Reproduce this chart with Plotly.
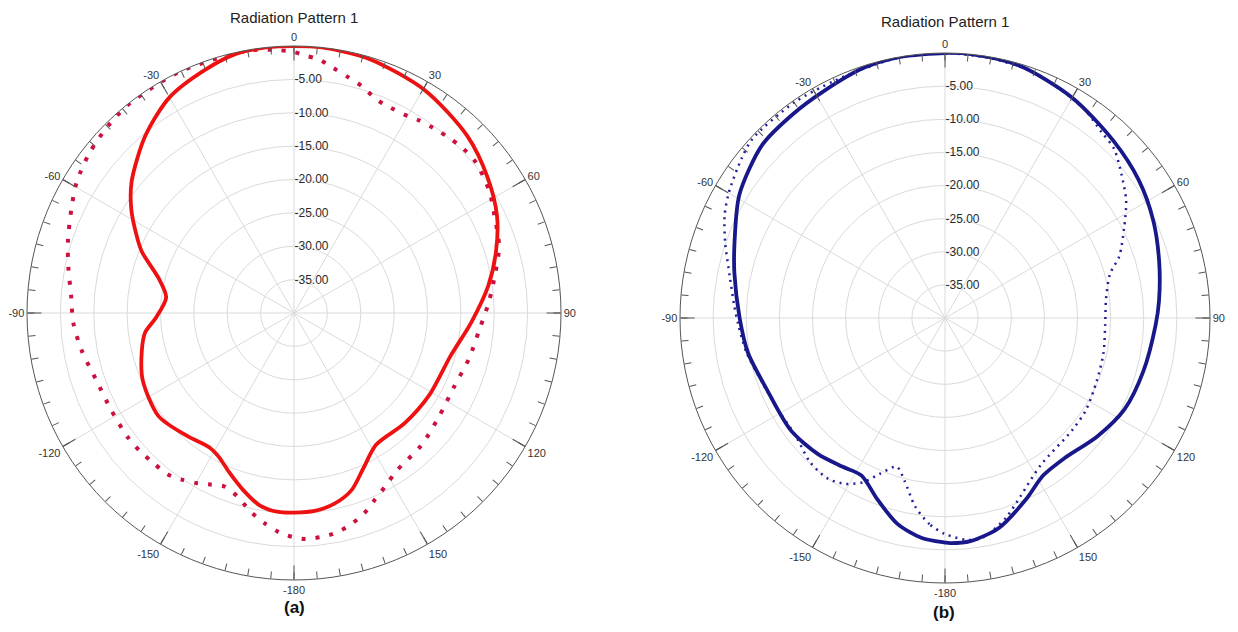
import plotly.graph_objects as go

# ---------------- (a) radiation pattern, gain in dB vs angle in degrees ----------------
theta_a_solid = [-180, -175.5, -170, -164, -158, -152.3, -148, -139, -127.5, -114, -104, -97.5, -92,
                 -83, -76, -68, -63.5, -57.5, -51, -40, -30, -20, -12.5, -6, 0, 6, 16.5, 30.5, 44.5,
                 55, 64.5, 73, 82, 93, 105.5, 121.5, 135, 148, 156, 162, 168, 174, 180]
r_a_solid = [-10.1, -10.1, -10.7, -12.4, -14.2, -15.7, -16.2, -15.6, -14.5, -15.2, -16.5, -17.5, -19.3,
             -20.7, -19.2, -15.4, -13.6, -11.1, -8.7, -5.35, -2.7, -1.2, -0.2, 0.0, 0.0, 0.0, -0.3,
             -1.3, -2.9, -4.6, -6.3, -8.35, -10.6, -13.4, -15.7, -16.3, -16.6, -16.75, -14.5, -12.1,
             -10.8, -10.2, -10.1]

theta_a_dot = [-180, -176, -172, -167.5, -163, -158, -154, -150, -146, -142, -137, -132, -127, -118,
               -108.5, -100, -92.5, -85.5, -78.5, -72, -65, -59, -52, -45, -38, -25, -10, -4, 0, 2.5,
               5.5, 9, 12.7, 17, 21, 25, 29, 33, 37, 41, 45, 50, 58, 64, 72, 79, 87, 95, 104.5, 115,
               125.5, 136, 147, 152, 157, 161, 166, 170, 173, 177, 180]
r_a_dot = [-6.4, -7.1, -8.2, -9.6, -11.2, -12.0, -11.4, -10.6, -9.9, -9.3, -9.2, -9.0, -8.9, -9.0,
           -8.7, -7.7, -6.9, -6.5, -5.5, -4.4, -3.2, -2.0, -1.1, -0.5, -0.1, 0.0, -0.1, -0.5, -0.9, -1.4,
           -1.8, -2.8, -3.7, -4.6, -5.7, -6.0, -6.0, -5.6, -5.3, -5.0, -4.7, -4.6, -5.5, -6.6, -7.7,
           -9.3, -10.8, -12.1, -12.9, -13.6, -13.3, -12.5, -11.8, -10.7, -9.4, -8.1, -7.0, -6.4, -6.2,
           -6.1, -6.4]

# ---------------- (b) radiation pattern ----------------
theta_b_solid = [-180, -174, -167, -159.5, -152, -145.5, -137, -126, -111.5, -100, -90, -78, -70, -59,
                 -46.5, -36.5, -28.5, -18, -10, 0, 6, 16.5, 30, 43.5, 54.5, 65, 75.5, 85.5, 92, 105,
                 117, 128, 139.5, 148, 156, 165.5, 173.5, 178.7, 180]
r_b_solid = [-6.1, -6.6, -8.1, -10.8, -13.1, -12.75, -11.9, -11.2, -11.0, -9.8, -9.0, -7.5, -6.2, -3.8,
             -2.0, -1.6, -1.2, -0.3, 0.0, 0.0, 0.0, -0.3, -1.6, -3.1, -4.1, -5.3, -6.6, -7.6, -8.2,
             -9.0, -9.6, -10.9, -12.2, -12.0, -10.0, -7.3, -6.1, -6.0, -6.1]

theta_b_dot = [-180, -175.7, -171, -166, -162, -157.5, -153.5, -149, -144, -137, -128, -118, -110, -100,
               -92, -86.4, -79, -71, -65, -60, -52, -47, -35, -25, -15, -8, 0, 10, 20, 33, 40, 45, 51,
               57, 63.5, 70.5, 75, 83, 92.5, 102.5, 112.5, 123, 131.5, 147, 157, 163, 170, 174, 180]
r_b_dot = [-7.4, -8.8, -11.2, -14.7, -16.4, -14.6, -12.3, -10.8, -10.0, -10.2, -11.3, -11.2, -10.8,
           -9.6, -8.8, -8.1, -6.9, -4.9, -3.3, -2.3, -1.0, -0.3, -0.3, -0.5, -0.3, 0.0, 0.0, -0.2,
           -0.6, -2.0, -3.3, -3.9, -5.7, -7.4, -9.8, -12.1, -14.2, -15.5, -15.8, -15.5, -15.2, -14.6,
           -14.4, -13.5, -10.8, -8.5, -6.4, -6.3, -7.4]

# ---------------- axis settings ----------------
radial_range = [-40, 0]
radial_ticks = [-35, -30, -25, -20, -15, -10, -5]
radial_text = [f"{v:.2f}" for v in radial_ticks]
major_angles = [0, 30, 60, 90, 120, 150, 180, 210, 240, 270, 300, 330]
major_labels = ["0", "30", "60", "90", "120", "150", "-180", "-150", "-120", "-90", "-60", "-30"]
minor_angles = list(range(0, 360, 5))

title_text = "Radiation Pattern 1"
captions = ["(a)", "(b)"]

W, H = 1238, 632
FONT = "Arial, Liberation Sans, sans-serif"
GRID = "#dadada"
AXIS = "#555555"
SMOOTH = 0.8

# plot discs: centre (px) and radius (px)
discs = [((294, 313), 267), ((945, 318), 265)]


def domain_of(center, radius):
    cx, cy = center
    cy_up = H - cy
    return dict(x=[(cx - radius) / W, (cx + radius) / W],
                y=[(cy_up - radius) / H, (cy_up + radius) / H])


def main_polar(dom):
    return dict(
        domain=dom,
        bgcolor="white",
        radialaxis=dict(range=radial_range, tickmode="array", tickvals=radial_ticks,
                        ticktext=radial_text, angle=90, tickangle=90, side="clockwise",
                        showline=False, ticks="", gridcolor=GRID, gridwidth=1,
                        tickfont=dict(family=FONT, size=12, color="#2a2a2a")),
        angularaxis=dict(rotation=90, direction="clockwise", tickmode="array",
                         tickvals=major_angles, ticktext=major_labels, ticks="inside",
                         ticklen=14, tickcolor=AXIS, tickwidth=1, showline=True,
                         linecolor=AXIS, linewidth=1, gridcolor=GRID, gridwidth=1,
                         tickfont=dict(family=FONT, size=11, color="#333333")),
    )


def minor_polar(dom):
    return dict(
        domain=dom,
        bgcolor="rgba(0,0,0,0)",
        radialaxis=dict(range=radial_range, visible=False),
        angularaxis=dict(rotation=90, direction="clockwise", tickmode="array",
                         tickvals=minor_angles, ticks="inside", ticklen=7, tickcolor=AXIS,
                         tickwidth=1, showticklabels=False, showgrid=False, showline=False),
    )


fig = go.Figure()

fig.add_trace(go.Scatterpolar(theta=theta_a_dot, r=r_a_dot, mode="lines", subplot="polar",
                              line=dict(color="#cc1040", width=4, dash="4px,10px", shape="spline",
                                        smoothing=SMOOTH),
                              hoverinfo="skip", showlegend=False))
fig.add_trace(go.Scatterpolar(theta=theta_a_solid, r=r_a_solid, mode="lines", subplot="polar",
                              line=dict(color="#ee1111", width=3.8, shape="spline", smoothing=SMOOTH),
                              hoverinfo="skip", showlegend=False))
fig.add_trace(go.Scatterpolar(theta=theta_b_dot, r=r_b_dot, mode="lines", subplot="polar2",
                              line=dict(color="#1f1f99", width=2.5, dash="2px,5px", shape="spline",
                                        smoothing=SMOOTH),
                              hoverinfo="skip", showlegend=False))
fig.add_trace(go.Scatterpolar(theta=theta_b_solid, r=r_b_solid, mode="lines", subplot="polar2",
                              line=dict(color="#18188a", width=3.8, shape="spline", smoothing=SMOOTH),
                              hoverinfo="skip", showlegend=False))
# empty traces so the minor-tick overlays are rendered
for sp in ["polar3", "polar4"]:
    fig.add_trace(go.Scatterpolar(theta=[], r=[], mode="lines", subplot=sp,
                                  hoverinfo="skip", showlegend=False))

dom_a = domain_of(*discs[0])
dom_b = domain_of(*discs[1])

fig.update_layout(
    width=W, height=H, autosize=False,
    margin=dict(l=0, r=0, t=0, b=0),
    paper_bgcolor="white",
    polar=main_polar(dom_a),
    polar2=main_polar(dom_b),
    polar3=minor_polar(dom_a),
    polar4=minor_polar(dom_b),
    font=dict(family=FONT),
)

title_pos = [(294, 17), (945, 22)]
caption_pos = [(294, 607), (944, 612)]
for (tx, ty) in title_pos:
    fig.add_annotation(x=tx / W, y=1 - ty / H, xref="paper", yref="paper", text=title_text,
                       showarrow=False, xanchor="center", yanchor="middle",
                       font=dict(family=FONT, size=15, color="#222222"))
for (cx, cy), cap in zip(caption_pos, captions):
    fig.add_annotation(x=cx / W, y=1 - cy / H, xref="paper", yref="paper", text=f"<b>{cap}</b>",
                       showarrow=False, xanchor="center", yanchor="middle",
                       font=dict(family=FONT, size=17, color="#111111"))

fig.write_html("out.html")
